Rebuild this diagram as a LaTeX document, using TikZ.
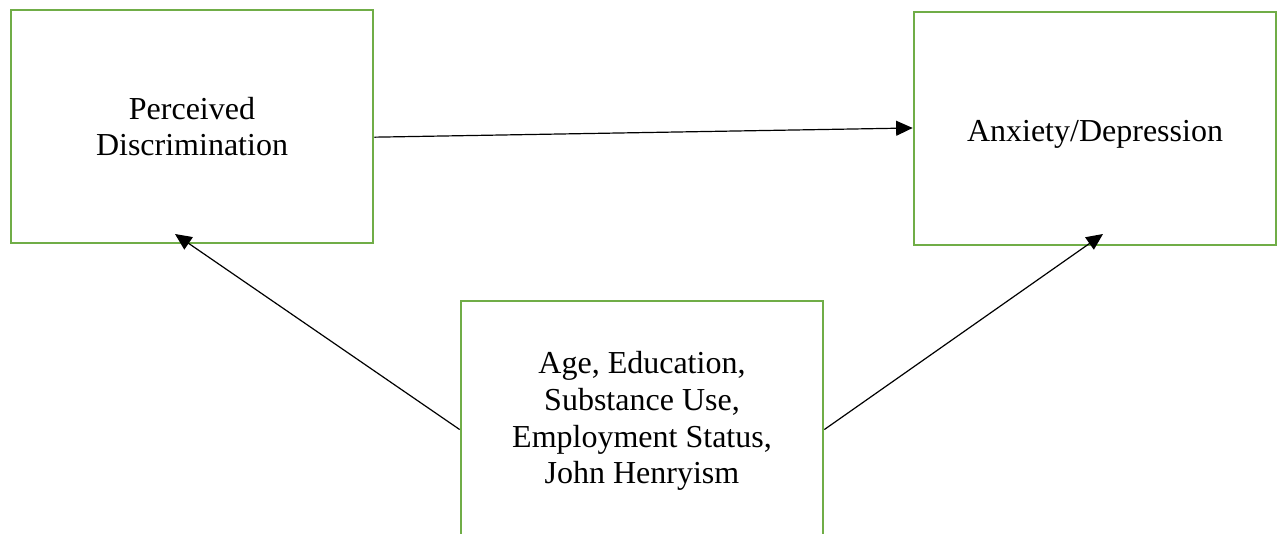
\documentclass[tikz,border=0pt]{standalone}
\usepackage{fontspec}
\setmainfont{Liberation Serif}
\definecolor{boxgreen}{RGB}{112,173,71}
\tikzset{
  factor/.style={draw=boxgreen, line width=1pt, rectangle, align=center,
    minimum width=135.75pt, minimum height=87.4pt, inner sep=0pt,
    font=\fontsize{12}{13.8}\selectfont},
  path/.style={-{Triangle[length=6.2pt,width=5.6pt]}, line width=0.45pt}
}
\usetikzlibrary{arrows.meta}
\begin{document}
\begin{tikzpicture}[x=0.375pt, y=-0.375pt]
      \useasboundingbox (0,0) rectangle (1278,533);
      \draw
        (192,126.5) node[factor] (pd){Perceived\\Discrimination}
        (1095,128.5) node[factor] (ad){\raisebox{-2.3pt}[\height][\depth]{Anxiety/Depression}}
        (642,421) node[factor, minimum height=90pt] (cov){Age, Education,\\Substance Use,\\Employment Status,\\John Henryism};
      \coordinate (pdin) at (175,234);
      \coordinate (adin) at (1103,234);
      \begin{scope}[path]
        \draw ([yshift=-4pt]pd.east) to ([yshift=0.2pt]ad.west);
        \draw ([yshift=-3.2pt]cov.west) to (pdin);
        \draw ([yshift=-3.2pt]cov.east) to (adin);
      \end{scope}
    \end{tikzpicture}
\end{document}
